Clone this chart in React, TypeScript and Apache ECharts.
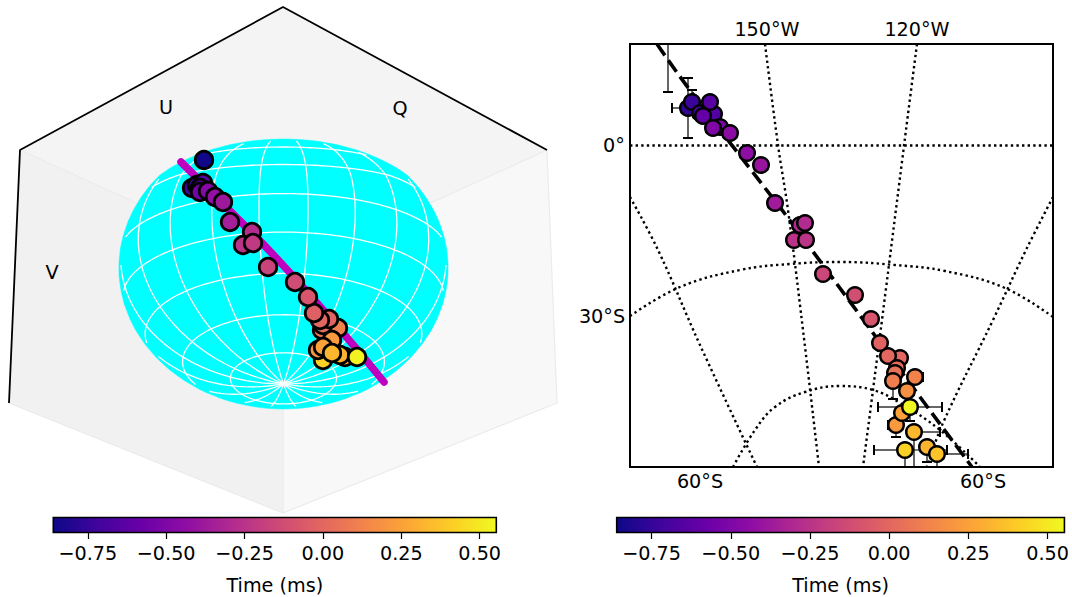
import React, { useEffect, useRef } from "react";
import * as echarts from "echarts";

const FONT = "DejaVu Sans";
const FS = 19.2;
const T_MIN = -0.86;
const T_MAX = 0.553;
const colorbarTicks = [-0.75, -0.5, -0.25, 0, 0.25, 0.5];
const plasmaStops = ["#0d0887", "#41049d", "#6a00a8", "#8f0da4", "#b12a90", "#cc4778", "#e16462", "#f2844b", "#fca636", "#fcce25", "#f0f921"];

// Left panel: projected points [x, y, time]
const leftPoints = [
  [204, 160, -0.85], [192, 188, -0.72], [197, 185, -0.7], [203, 183, -0.65], [200, 188, -0.6], [200, 192, -0.55],
  [208, 191, -0.48], [215, 197, -0.42], [223, 202, -0.38], [230, 222, -0.35], [252, 232, -0.28], [243, 245, -0.25],
  [253, 243, -0.22], [338, 328, 0.12], [322, 330, 0.08], [323, 325, 0.03], [329, 319, -0.01], [320, 320, 0.0],
  [314, 313, -0.03], [308, 297, -0.08], [295, 282, -0.13], [268, 267, -0.17], [323, 360, 0.42], [331, 344, 0.5],
  [332, 340, 0.22], [318, 350, 0.2], [323, 347, 0.25], [345, 357, 0.27], [340, 355, 0.32], [332, 353, 0.33], [357, 357, 0.53],
];
const bandPath = [[181, 162], [230, 211], [280, 262], [343, 333], [384, 382]];
const paneTop = [[283, 7], [20, 150], [283, 270], [547, 150]];
const paneLeft = [[20, 150], [9, 403], [283, 513], [283, 270]];
const paneRight = [[547, 150], [557, 403], [283, 513], [283, 270]];
const blackEdges = [[9, 403], [20, 150], [283, 7], [547, 150]];
const faintEdges = [[[20, 150], [283, 270], [547, 150]], [[283, 270], [283, 513]], [[9, 403], [283, 513], [557, 403], [547, 150]]];
const latitudes = [-70, -50, -30, -10, 10, 30, 50, 70];
const longitudes = [-170, -150, -130, -110, -90, -70, -50, -30, -10, 10, 30, 50, 70, 90, 110, 130, 150, 170];

// Right panel
const rightPoints = [
  [668, 30, -0.85], [688, 108, -0.76], [692, 102, -0.73], [700, 113, -0.68], [714, 114, -0.66], [710, 102, -0.64], [703, 116, -0.6],
  [720, 127, -0.52], [713, 128, -0.5], [730, 133, -0.45], [747, 153, -0.44], [761, 165, -0.4], [775, 203, -0.37],
  [800, 225, -0.3], [805, 223, -0.29], [794, 240, -0.25], [806, 240, -0.24], [823, 274, -0.16], [855, 295, -0.12], [871, 319, -0.08],
  [900, 358, 0.0], [888, 356, 0.0], [880, 343, -0.02], [897, 368, 0.02], [895, 373, 0.05], [893, 381, 0.1], [915, 377, 0.12], [907, 391, 0.18],
  [896, 425, 0.22], [902, 413, 0.25], [910, 407, 0.55], [914, 432, 0.33], [927, 447, 0.32], [905, 450, 0.42], [937, 454, 0.37],
];
// [x, y, xMinus, xPlus, yMinus, yPlus]
const rightErrors = [
  [668, 30, 0, 0, 0, 62], [688, 108, 16, 0, 30, 30], [692, 102, 0, 0, 12, 0], [915, 377, 0, 8, 0, 0], [893, 381, 0, 0, 0, 18],
  [910, 407, 32, 32, 0, 14], [896, 425, 8, 0, 0, 12], [914, 432, 0, 26, 0, 40], [905, 450, 31, 42, 0, 30], [927, 447, 0, 0, 0, 15], [937, 454, 0, 31, 0, 20],
];
const fitLine = [[657, 44], [692, 93], [765, 188], [788, 218], [873, 333], [920, 397], [972, 467]];
const dottedLines = [
  [[630, 145.5], [1053, 145.5]],
  [[765, 44], [778, 145], [788, 210], [803, 330], [819, 467]],
  [[917, 44], [906, 130], [882, 320], [873, 390], [863, 467]],
  [[630, 316], [680, 287], [740, 270], [790, 264], [842, 262], [895, 265], [945, 271], [1005, 288], [1053, 317]],
  [[733, 467], [755, 430], [775, 407], [805, 392], [840, 386], [873, 390], [900, 403], [940, 430], [980, 467]],
  [[630, 197], [658, 250], [700, 345], [757, 467]],
  [[1053, 197], [1026, 250], [993, 320], [943, 423], [927, 467]],
];
const annotations = [
  { t: "U", x: 166, y: 107 }, { t: "Q", x: 400, y: 108 }, { t: "V", x: 52, y: 272 },
  { t: "150°W", x: 767, y: 29 }, { t: "120°W", x: 917, y: 29 }, { t: "0°", x: 614, y: 145 },
  { t: "30°S", x: 602, y: 316 }, { t: "60°S", x: 700, y: 481 }, { t: "60°S", x: 983, y: 481 },
];

// Sphere camera
const CX = 283.5, CY = 265, S = 162.5, EL = (22 * Math.PI) / 180, DIST = 6, ZS = 0.83;
function surf(lat: number, lon: number) {
  const a = (lat * Math.PI) / 180, b = (lon * Math.PI) / 180;
  return [Math.cos(a) * Math.cos(b), Math.cos(a) * Math.sin(b), ZS * Math.sin(a)];
}
function project(lat: number, lon: number) {
  const [x, y, z] = surf(lat, lon);
  const d = x * Math.cos(EL) - z * Math.sin(EL);
  const v = x * Math.sin(EL) + z * Math.cos(EL);
  const f = DIST / (DIST + d);
  const py = CY - S * f * v;
  return [CX + S * f * y, py < 175 ? 175 - (175 - py) * 0.75 : py];
}
function visible(lat: number, lon: number) {
  const [x, , z] = surf(lat, lon);
  return x * Math.cos(EL) - (z / (ZS * ZS)) * Math.sin(EL) > -0.001;
}
function hull(pts: number[][]) {
  const p = [...pts].sort((a, b) => a[0] - b[0] || a[1] - b[1]);
  const cross = (o: number[], a: number[], b: number[]) => (a[0] - o[0]) * (b[1] - o[1]) - (a[1] - o[1]) * (b[0] - o[0]);
  const lo: number[][] = [], up: number[][] = [];
  for (const q of p) { while (lo.length > 1 && cross(lo[lo.length - 2], lo[lo.length - 1], q) <= 0) lo.pop(); lo.push(q); }
  for (const q of p.slice().reverse()) { while (up.length > 1 && cross(up[up.length - 2], up[up.length - 1], q) <= 0) up.pop(); up.push(q); }
  return lo.slice(0, -1).concat(up.slice(0, -1));
}
function sphereOutline() {
  const pts: number[][] = [];
  for (let la = -90; la <= 90; la += 5) for (let lo = -180; lo < 180; lo += 5) pts.push(project(la, lo));
  return hull(pts);
}
function graticule() {
  const runs: number[][][] = [];
  const add = (fn: (u: number) => number[], from: number, to: number) => {
    let run: number[][] = [];
    for (let u = from; u <= to; u += 2) {
      const [la, lo] = fn(u);
      if (visible(la, lo)) run.push(project(la, lo));
      else { if (run.length > 1) runs.push(run); run = []; }
    }
    if (run.length > 1) runs.push(run);
  };
  latitudes.forEach((la) => add((u) => [la, u], -180, 180));
  longitudes.forEach((lo) => add((u) => [u, lo], -90, 90));
  return runs;
}

function plasma(t: number) {
  const n = Math.max(0, Math.min(1, (t - T_MIN) / (T_MAX - T_MIN))) * (plasmaStops.length - 1);
  const i = Math.min(Math.floor(n), plasmaStops.length - 2);
  const h = (c: string) => [1, 3, 5].map((k) => parseInt(c.slice(k, k + 2), 16));
  const a = h(plasmaStops[i]), b = h(plasmaStops[i + 1]);
  const m = a.map((v, k) => Math.round(v + (b[k] - v) * (n - i)));
  return `rgb(${m[0]},${m[1]},${m[2]})`;
}

function polygonSeries(points: number[][], fill: string, z: number) {
  return {
    type: "custom", xAxisIndex: 0, yAxisIndex: 0, silent: true, z,
    data: [[points[0][0], points[0][1]]],
    renderItem: (_: any, api: any) => ({
      type: "polygon",
      shape: { points: points.map((p) => api.coord(p)) },
      style: { fill, stroke: fill, lineWidth: 0.5 },
    }),
  };
}
function plain(name: string, data: number[][], axis: number, style: any, z: number, extra: any = {}) {
  return { type: "line", name, data, xAxisIndex: axis, yAxisIndex: axis, showSymbol: false, symbol: "none", silent: true, lineStyle: style, z, animation: false, ...extra };
}
function colorbarSeries(axis: number) {
  return {
    type: "custom", xAxisIndex: axis, yAxisIndex: axis, silent: true, z: 5,
    data: [[T_MIN, 0]],
    renderItem: (_: any, api: any) => {
      const a = api.coord([T_MIN, 1]), b = api.coord([T_MAX, 0]);
      return {
        type: "rect",
        shape: { x: a[0], y: a[1], width: b[0] - a[0], height: b[1] - a[1] },
        style: {
          stroke: "#000", lineWidth: 1.6,
          fill: new echarts.graphic.LinearGradient(0, 0, 1, 0, plasmaStops.map((color, i) => ({ offset: i / (plasmaStops.length - 1), color }))),
        },
      };
    },
  };
}
function hiddenAxis(gridIndex: number, min: number, max: number, inverse = false) {
  return { type: "value", gridIndex, min, max, inverse, show: false, scale: true, splitLine: { show: false } };
}
function colorbarAxis(gridIndex: number) {
  return {
    type: "value", gridIndex, min: T_MIN, max: T_MAX, position: "bottom",
    name: "Time (ms)", nameLocation: "middle", nameGap: 43,
    nameTextStyle: { fontFamily: FONT, fontSize: FS, color: "#000" },
    axisLine: { show: false },
    splitLine: { show: false },
    axisTick: { show: true, length: 6.5, lineStyle: { color: "#000", width: 1.2 }, customValues: colorbarTicks },
    axisLabel: {
      fontFamily: FONT, fontSize: FS, color: "#000", margin: 11, hideOverlap: false, customValues: colorbarTicks,
      formatter: (v: number) => v.toFixed(2).replace("-", "\u2212"),
    },
  };
}

export default function App() {
  const ref = useRef<HTMLDivElement>(null);
  useEffect(() => {
    const chart = echarts.init(ref.current!, null, { renderer: "svg" });
    const runs = graticule();
    const scatterStyle = { color: (p: any) => plasma(p.value[2]), borderColor: "#000", opacity: 1 };
    chart.setOption({
      animation: false,
      backgroundColor: "#fff",
      grid: [
        { left: 0, top: 0, width: 560, height: 520 },
        { left: 630, top: 44, width: 423, height: 423, show: true, borderColor: "#000", borderWidth: 2, backgroundColor: "#fff" },
        { left: 53.3, top: 517.5, width: 443, height: 15 },
        { left: 616.7, top: 517.5, width: 448.3, height: 15 },
      ],
      xAxis: [hiddenAxis(0, 0, 560), hiddenAxis(1, 630, 1053), colorbarAxis(2), colorbarAxis(3)],
      yAxis: [hiddenAxis(0, 0, 520, true), hiddenAxis(1, 44, 467, true), hiddenAxis(2, 0, 1), hiddenAxis(3, 0, 1)],
      series: [
        polygonSeries(paneTop, "#f4f4f4", 1),
        polygonSeries(paneLeft, "#f1f1f1", 1),
        polygonSeries(paneRight, "#f8f8f8", 1),
        ...faintEdges.map((e, i) => plain(`pane edge ${i}`, e, 0, { color: "#ebebeb", width: 1.2 }, 2)),
        plain("box edge", blackEdges, 0, { color: "#000", width: 1.8 }, 2),
        polygonSeries(sphereOutline(), "#00ffff", 3),
        {
          type: "custom", xAxisIndex: 0, yAxisIndex: 0, silent: true, z: 4,
          data: runs.map((r) => r[0]),
          renderItem: (p: any, api: any) => ({
            type: "polyline",
            shape: { points: runs[p.dataIndex].map((q) => api.coord(q)) },
            style: { stroke: "#fff", fill: null, lineWidth: 1.3 },
          }),
        },
        plain("band", bandPath, 0, { color: "#bf00bf", width: 7.5, cap: "round" }, 5, { smooth: true }),
        { type: "scatter", xAxisIndex: 0, yAxisIndex: 0, data: leftPoints, symbolSize: 17.5, itemStyle: { ...scatterStyle, borderWidth: 2.8 }, z: 6, silent: true },

        ...dottedLines.map((l, i) => plain(`graticule ${i}`, l, 1, { color: "#000", width: 2.4, type: [2.4, 3.2] }, 3, { smooth: l.length > 2 ? 0.4 : false })),
        plain("fit", fitLine, 1, { color: "#000", width: 3.6, type: [14, 6] }, 4, { smooth: true }),
        {
          type: "custom", xAxisIndex: 1, yAxisIndex: 1, silent: true, z: 5, clip: true,
          data: rightErrors,
          renderItem: (_: any, api: any) => {
            const [x, y, xm, xp, ym, yp] = [0, 1, 2, 3, 4, 5].map((k) => api.value(k));
            const seg = (a: number[], b: number[]) => {
              const p = api.coord(a), q = api.coord(b);
              return { type: "line", shape: { x1: p[0], y1: p[1], x2: q[0], y2: q[1] }, style: { stroke: "#000", lineWidth: 1.2 } };
            };
            const cap = (a: number[], h: boolean) =>
              h ? { ...seg([a[0], a[1] - 5], [a[0], a[1] + 5]), style: { stroke: "#000", lineWidth: 2 } }
                : { ...seg([a[0] - 5, a[1]], [a[0] + 5, a[1]]), style: { stroke: "#000", lineWidth: 2 } };
            const children: any[] = [];
            if (xm) children.push(seg([x - xm, y], [x, y]), cap([x - xm, y], true));
            if (xp) children.push(seg([x, y], [x + xp, y]), cap([x + xp, y], true));
            if (ym) children.push(seg([x, y - ym], [x, y]), cap([x, y - ym], false));
            if (yp) children.push(seg([x, y], [x, y + yp]), cap([x, y + yp], false));
            return { type: "group", children };
          },
        },
        { type: "scatter", xAxisIndex: 1, yAxisIndex: 1, data: rightPoints, symbolSize: 15.5, itemStyle: { ...scatterStyle, borderWidth: 2.5 }, z: 6, silent: true, clip: true },

        colorbarSeries(2),
        colorbarSeries(3),
      ],
      graphic: annotations.map((a) => ({
        type: "text", x: a.x, y: a.y, silent: true, z: 20,
        style: { text: a.t, fontFamily: FONT, fontSize: FS, fill: "#000", align: "center", verticalAlign: "middle" },
      })),
    });
    return () => chart.dispose();
  }, []);
  return <div ref={ref} style={{ position: "absolute", left: 0, top: 0, width: 1072, height: 597 }} />;
}
